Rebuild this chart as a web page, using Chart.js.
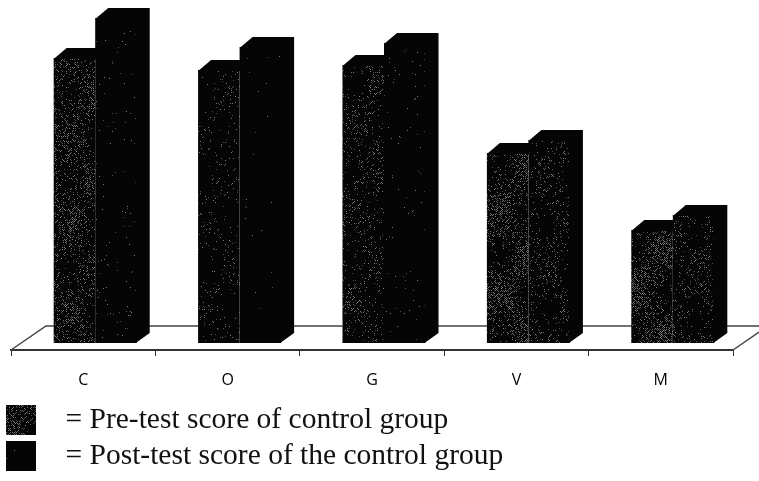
<!DOCTYPE html>
<html>
<head>
<meta charset="utf-8">
<script src="https://cdn.jsdelivr.net/npm/chart.js@4/dist/chart.umd.min.js"></script>
<style>
  html, body { margin: 0; padding: 0; background: #fff; }
</style>
</head>
<body>
<canvas id="chart" width="759" height="481"></canvas>
<script>
const categories = ['C', 'O', 'G', 'V', 'M'];
const preTest = [28.5, 27.3, 27.8, 19.0, 11.3];
const postTest = [32.5, 29.6, 30.0, 20.3, 12.8];

// how speckled each scanned bar looks
const preGrain = [0.42, 0.1, 0.22, 0.5, 0.55];
const postGrain = [0.025, 0.006, 0.02, 0.2, 0.22];

const DEPTH_X = 13, DEPTH_Y = 10;
const FLOOR_X = 35, FLOOR_Y = 24;
const BAR_SHIFT_X = 12, BAR_SHIFT_Y = 7;

function grainPattern(density, seed) {
    const tile = document.createElement('canvas');
    tile.width = 240;
    tile.height = 360;
    const c = tile.getContext('2d');
    c.fillStyle = '#050505';
    c.fillRect(0, 0, tile.width, tile.height);
    let s = seed;
    const next = () => (s = (s * 1664525 + 1013904223) % 4294967296) / 4294967296;
    for (let y = 0; y < tile.height; y++) {
        for (let x = 0; x < tile.width; x++) {
            if ((x + y) % 2) continue;
            const blob = 0.6 + 0.5 * Math.sin(x / 9 + seed) * Math.cos(y / 14 + seed / 2);
            if (next() < density * blob) {
                c.fillStyle = next() < 0.5 ? '#7a7a7a' : '#4e4e4e';
                c.fillRect(x, y, 1, 1);
            }
        }
    }
    return c.createPattern(tile, 'repeat');
}

const prePatterns = preGrain.map((g, i) => grainPattern(g, 11 + i * 7));
const postPatterns = postGrain.map((g, i) => grainPattern(g, 53 + i * 5));

const bars3d = {
    id: 'bars3d',
    beforeDatasetsDraw(chart) {
        // floor plane behind the bars
        const { ctx, chartArea: a } = chart;
        ctx.save();
        ctx.strokeStyle = '#444';
        ctx.lineWidth = 1.5;
        ctx.beginPath();
        ctx.moveTo(a.left, a.bottom);
        ctx.lineTo(a.left + FLOOR_X, a.bottom - FLOOR_Y);
        ctx.lineTo(a.right + FLOOR_X, a.bottom - FLOOR_Y);
        ctx.lineTo(a.right, a.bottom);
        ctx.stroke();
        ctx.restore();
    },
    beforeDatasetDraw(chart) {
        chart.ctx.save();
        chart.ctx.translate(BAR_SHIFT_X, -BAR_SHIFT_Y);
    },
    afterDatasetDraw(chart, args) {
        const ctx = chart.ctx;
        // post bars are drawn first, so pre bars only add a top cut off at the post bar
        const isPre = args.index === 0;
        ctx.fillStyle = '#050505';
        args.meta.data.forEach(bar => {
            const l = bar.x - bar.width / 2, r = bar.x + bar.width / 2;
            ctx.beginPath();
            ctx.moveTo(l, bar.y + 1);
            ctx.lineTo(l + DEPTH_X, bar.y - DEPTH_Y);
            if (isPre) {
                ctx.lineTo(r + 1, bar.y - DEPTH_Y);
                ctx.lineTo(r + 1, bar.y + 1);
            } else {
                ctx.lineTo(r + DEPTH_X, bar.y - DEPTH_Y);
                ctx.lineTo(r + DEPTH_X, bar.base - DEPTH_Y);
                ctx.lineTo(r - 1, bar.base);
                ctx.lineTo(r - 1, bar.y + 1);
            }
            ctx.closePath();
            ctx.fill();
        });
        ctx.restore();
    }
};

new Chart(document.getElementById('chart'), {
    type: 'bar',
    data: {
        labels: categories,
        datasets: [
            { label: '= Pre-test score of control group', data: preTest, backgroundColor: prePatterns, clip: false },
            { label: '= Post-test score of the control group', data: postTest, backgroundColor: postPatterns, clip: false }
        ]
    },
    options: {
        responsive: false,
        animation: false,
        datasets: { bar: { categoryPercentage: 0.575, barPercentage: 1 } },
        scales: {
            x: {
                afterFit: s => { s.height = 49; },
                border: { color: '#333', width: 2 },
                grid: { drawOnChartArea: false, tickLength: 6, color: '#333' },
                ticks: { color: '#000', padding: 15, maxRotation: 0, font: { family: 'Open Sans', size: 16 } }
            },
            y: {
                min: 0,
                max: 35,
                afterFit: s => { s.width = 11; },
                border: { display: false },
                grid: { display: false },
                ticks: { display: false }
            },
            yRight: {
                position: 'right',
                min: 0,
                max: 35,
                afterFit: s => { s.width = 26; },
                border: { display: false },
                grid: { display: false },
                ticks: { display: false }
            }
        },
        plugins: {
            tooltip: { enabled: false },
            legend: {
                position: 'bottom',
                align: 'start',
                labels: {
                    boxWidth: 30,
                    boxHeight: 30,
                    padding: 6,
                    color: '#111',
                    font: { family: 'Liberation Serif', size: 29.5 },
                    generateLabels: chart => chart.data.datasets.map((ds, i) => ({
                        text: '\u00a0\u00a0' + ds.label,
                        fillStyle: ds.backgroundColor[i === 0 ? 4 : 1],
                        lineWidth: 0,
                        strokeStyle: 'transparent',
                        fontColor: '#111',
                        datasetIndex: i
                    }))
                }
            }
        }
    },
    plugins: [bars3d]
});
</script>
</body>
</html>
